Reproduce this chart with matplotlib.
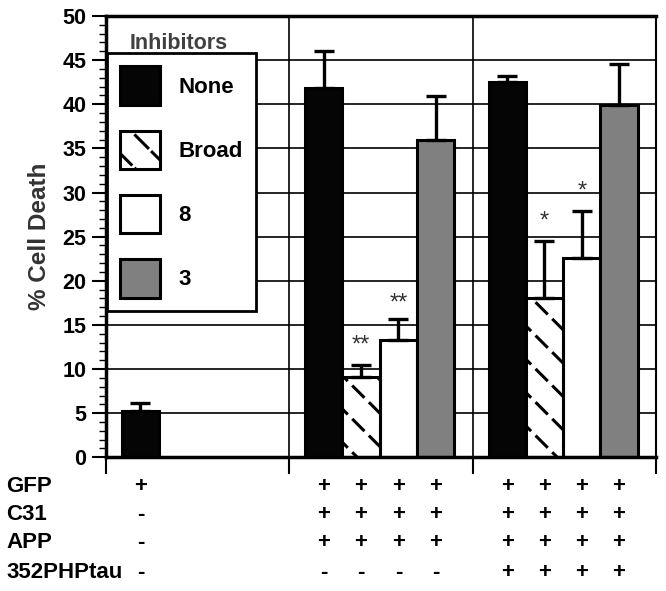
import numpy as np
import matplotlib
matplotlib.use("Agg")
import matplotlib.pyplot as plt
from matplotlib.ticker import MultipleLocator
from matplotlib.transforms import blended_transform_factory

plt.rcParams["font.family"] = ["Liberation Sans", "DejaVu Sans"]
plt.rcParams["font.weight"] = "bold"
plt.rcParams["axes.labelweight"] = "bold"
plt.rcParams["hatch.linewidth"] = 2.2

# data
inhibitors = ["None", "Broad", "8", "3"]
groups = ["GFP only", "GFP+C31+APP", "GFP+C31+APP+352PHPtau"]
# values per group, None = bar not present
cell_death = [
    [5.2, None, None, None],
    [41.8, 9.1, 13.3, 36.0],
    [42.5, 18.1, 22.6, 39.9],
]
errors = [
    [0.9, None, None, None],
    [4.2, 1.4, 2.4, 4.9],
    [0.7, 6.4, 5.3, 4.7],
]
stars = [
    [None, None, None, None],
    [None, "**", "**", None],
    [None, "*", "*", None],
]
star_y = [
    [None, None, None, None],
    [None, 12.0, 16.7, None],
    [None, 26.0, 29.4, None],
]
row_labels = ["GFP", "C31", "APP", "352PHPtau"]
table = [
    # GFP, C31, APP, 352PHPtau for each bar slot
    [["+", "-", "-", "-"], None, None, None],
    [["+", "+", "+", "-"]] * 4,
    [["+", "+", "+", "+"]] * 4,
]

face = ["#050505", "white", "white", "#808080"]
offsets = np.array([0.087, 0.29, 0.494, 0.697])
width = 0.203

fig = plt.figure(figsize=(6.66, 5.91), dpi=100)
ax = fig.add_axes([0.159, 0.2262, 0.826, 0.7468])

handles = {}
for g in range(len(groups)):
    for i, name in enumerate(inhibitors):
        v = cell_death[g][i]
        if v is None:
            continue
        x = g + offsets[i]
        if name == "Broad":
            b1 = ax.bar(x, v, width, align="edge", color="white", edgecolor="black",
                        hatch="\\", linewidth=0, zorder=3)
            # wide white cross-hatch cuts the black stripes into dots
            with plt.rc_context({"hatch.linewidth": 4.5}):
                b2 = ax.bar(x, v, width, align="edge", color="none", edgecolor="white",
                            hatch="/", linewidth=0, zorder=3.1)
            b3 = ax.bar(x, v, width, align="edge", color="none", edgecolor="black",
                        linewidth=2.2, zorder=3.2)
            handles[name] = (b1[0], b2[0], b3[0])
        else:
            b = ax.bar(x, v, width, align="edge", color=face[i], edgecolor="black",
                       linewidth=2.2, zorder=3)
            handles[name] = b[0]
        e = errors[g][i]
        ax.errorbar(x + width / 2, v, yerr=[[0], [e]], fmt="none", ecolor="black",
                    elinewidth=2.4, capsize=7, capthick=2.4, zorder=4)
        if stars[g][i]:
            ax.text(x + width / 2, star_y[g][i], stars[g][i], ha="center",
                    va="baseline", fontsize=17, fontweight="normal", color="#333333")

ax.set_xlim(0, 3)
ax.set_ylim(0, 50)
ax.set_xticks([0, 1, 2, 3])
ax.set_xticklabels([])
ax.yaxis.set_major_locator(MultipleLocator(5))
ax.yaxis.set_minor_locator(MultipleLocator(1))
ax.tick_params(axis="x", length=12, width=1.5, direction="out")
ax.tick_params(axis="y", which="major", length=10, width=1.5, labelsize=15.5, pad=4)
ax.tick_params(axis="y", which="minor", length=5, width=1)
ax.grid(True, which="major", color="black", linewidth=1.2, zorder=0)
ax.set_axisbelow(True)
for side, lw in [("left", 2.5), ("top", 2.5), ("bottom", 2.5), ("right", 1.5)]:
    ax.spines[side].set_linewidth(lw)
    ax.spines[side].set_zorder(5)

ax.set_ylabel("% Cell Death", fontsize=17.5, color="#333333", labelpad=8)

leg = ax.legend([handles[n] for n in inhibitors], inhibitors, loc="upper left",
                bbox_to_anchor=(0.002, 0.916), borderaxespad=0, fontsize=16,
                handlelength=1.8, handleheight=2.3, labelspacing=1.15,
                handletextpad=0.8, borderpad=0.6, fancybox=False, framealpha=1,
                edgecolor="black")
leg.get_frame().set_linewidth(2)
leg.set_zorder(6)
ax.text(0.133, 0.937, "Inhibitors", transform=ax.transAxes, ha="center",
        va="center", fontsize=15.5, color="#404040")

# condition table below the axis
row_y = [487, 515, 543, 573]
trans = blended_transform_factory(ax.transData, fig.transFigure)
for r, label in enumerate(row_labels):
    yf = 1 - row_y[r] / 591
    fig.text(0.009, yf, label, ha="left", va="center", fontsize=16)
    for g in range(len(groups)):
        for i in range(4):
            marks = table[g][i]
            if marks is None:
                continue
            ax.text(g + offsets[i] + width / 2, yf, marks[r], transform=trans,
                    ha="center", va="center", fontsize=16, clip_on=False)

fig.savefig("out.png", dpi=100)
